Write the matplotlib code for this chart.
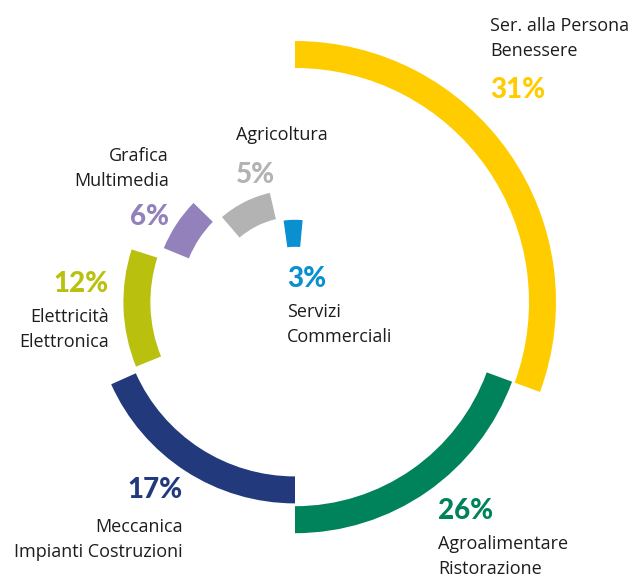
import numpy as np
import matplotlib
matplotlib.use("Agg")
import matplotlib.pyplot as plt

# data
categories = ["Ser. alla Persona\nBenessere", "Agroalimentare\nRistorazione",
              "Meccanica\nImpianti Costruzioni", "Elettricità\nElettronica",
              "Grafica\nMultimedia", "Agricoltura", "Servizi\nCommerciali"]
percent_labels = [31, 26, 17, 12, 6, 5, 3]
# arc lengths as drawn in the original, in % of the full circle
# (the original artwork does not follow the labels exactly)
arc_share = [30.6, 19.4, 18.3, 11.1, 6.1, 7.7, 3.7]

colors = ["#FFCC00", "#00825A", "#223A7C", "#B9C10E", "#9281BA", "#B3B3B3", "#0A8FD0"]
text_color = "#1d1d1b"

W, H = 630, 579
cx, cy = 295, 302          # ring centre in pixels
r_axes = 263
r_first = 261
ring_step = 29.8
ring_width = 27
gaps_deg = [0, 0, 0, 2, 4.5, 5, 5]

fig = plt.figure(figsize=(W / 100, H / 100), dpi=100)
ax = fig.add_axes([(cx - r_axes) / W, (H - cy - r_axes) / H, 2 * r_axes / W, 2 * r_axes / H],
                  projection="polar")
ax.set_theta_zero_location("N")
ax.set_theta_direction(-1)
ax.set_ylim(0, r_axes)
ax.axis("off")

sweeps = np.radians(np.array(arc_share) * 3.6)
starts = []
pos = 0.0
for s, g in zip(sweeps, np.radians(gaps_deg)):
    pos += g
    starts.append(pos)
    pos += s
starts = np.array(starts)
outer = r_first - ring_step * np.arange(len(arc_share))

ax.bar(starts, ring_width, width=sweeps, bottom=outer - ring_width,
       align="edge", color=colors, linewidth=0)

label_font = dict(family="Open Sans", fontsize=13, color=text_color)
pct_font = dict(family="Lato", fontsize=20, fontweight="black")


def px(x, y):
    return x / W, 1 - y / H


def block(i, x, y_pct, y_lab, ha):
    fig.text(*px(x, y_pct), f"{percent_labels[i]}%", ha=ha, va="baseline",
             color=colors[i], **pct_font)
    for k, line in enumerate(categories[i].split("\n")):
        fig.text(*px(x, y_lab + k * 25), line, ha=ha, va="baseline", **label_font)


block(0, 490, 98, 31, "left")
block(1, 438, 519, 549, "left")
block(2, 183, 498, 532, "right")
block(3, 109, 292, 322, "right")
block(4, 169, 225, 161, "right")
block(5, 236, 183, 140, "left")
block(6, 287, 287, 317, "left")

fig.savefig("out.png", dpi=100)
